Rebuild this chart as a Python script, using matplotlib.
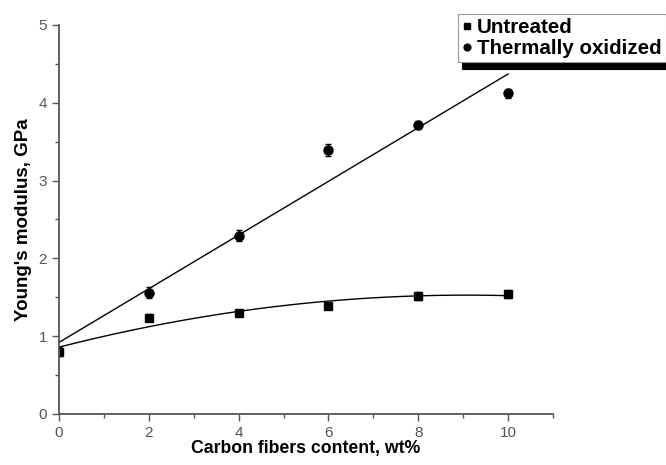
import numpy as np
import matplotlib.pyplot as plt
from matplotlib.ticker import MultipleLocator

# data
fiber_wt = [0, 2, 4, 6, 8, 10]
untreated = [0.80, 1.24, 1.30, 1.39, 1.52, 1.54]
untreated_err = [0.06, 0.05, 0.04, 0.04, 0.05, 0.05]
oxidized_x = [2, 4, 6, 8, 10]
oxidized = [1.56, 2.29, 3.39, 3.71, 4.12]
oxidized_err = [0.07, 0.07, 0.08, 0.05, 0.06]

plt.rcParams['font.family'] = ['Liberation Sans', 'DejaVu Sans']

fig = plt.figure(figsize=(6.66, 4.65), dpi=100)
ax = fig.add_axes([0.0886, 0.1097, 0.7417, 0.8366])

# fitted curves (from the data above)
xf = np.linspace(0, 10, 200)
c_un = np.polyfit(fiber_wt, untreated, 2)
c_ox = np.polyfit([0] + oxidized_x, [untreated[0]] + oxidized, 1)
ax.plot(xf, np.polyval(c_un, xf), color='black', lw=1.0)
ax.plot(xf, np.polyval(c_ox, xf), color='black', lw=1.0)

h1 = ax.errorbar(fiber_wt, untreated, yerr=untreated_err, fmt='s', color='black',
                 ms=6, capsize=2.5, elinewidth=1, capthick=1)
h2 = ax.errorbar(oxidized_x, oxidized, yerr=oxidized_err, fmt='o', color='black',
                 ms=6.5, capsize=2.5, elinewidth=1, capthick=1)

ax.set_xlim(0, 11)
ax.set_ylim(0, 5)
ax.set_xticks([0, 2, 4, 6, 8, 10])
ax.set_yticks([0, 1, 2, 3, 4, 5])
ax.xaxis.set_minor_locator(MultipleLocator(1))
ax.yaxis.set_minor_locator(MultipleLocator(0.5))
for s in ['top', 'right']:
    ax.spines[s].set_visible(False)
for s in ['left', 'bottom']:
    ax.spines[s].set_color('#555555')
    ax.spines[s].set_linewidth(1.3)
ax.tick_params(which='major', direction='out', length=5, width=1, colors='#555555',
               labelsize=11, labelcolor='#555555')
ax.tick_params(which='minor', direction='out', length=3, width=1, colors='#555555')

ax.set_xlabel('Carbon fibers content, wt%', fontsize=12.7, fontweight='bold', labelpad=0)
ax.set_ylabel("Young's modulus, GPa", fontsize=13.5, fontweight='bold', labelpad=5)

# legend box runs off the right edge, like the reference
leg = fig.legend([h1[0], h2[0]], ['Untreated', 'Thermally oxidized'],
                 loc='upper right', bbox_to_anchor=(1.016, 0.993),
                 prop={'weight': 'bold', 'size': 14.8}, handlelength=0.4,
                 handletextpad=0.3, borderpad=0.22, labelspacing=0.08,
                 fancybox=False, markerscale=0.75,
                 shadow={'ox': 3, 'oy': -5, 'color': 'black', 'alpha': 1})
leg.get_frame().set_edgecolor('#999999')
leg.get_frame().set_linewidth(0.8)

fig.savefig('out.png', dpi=100)
